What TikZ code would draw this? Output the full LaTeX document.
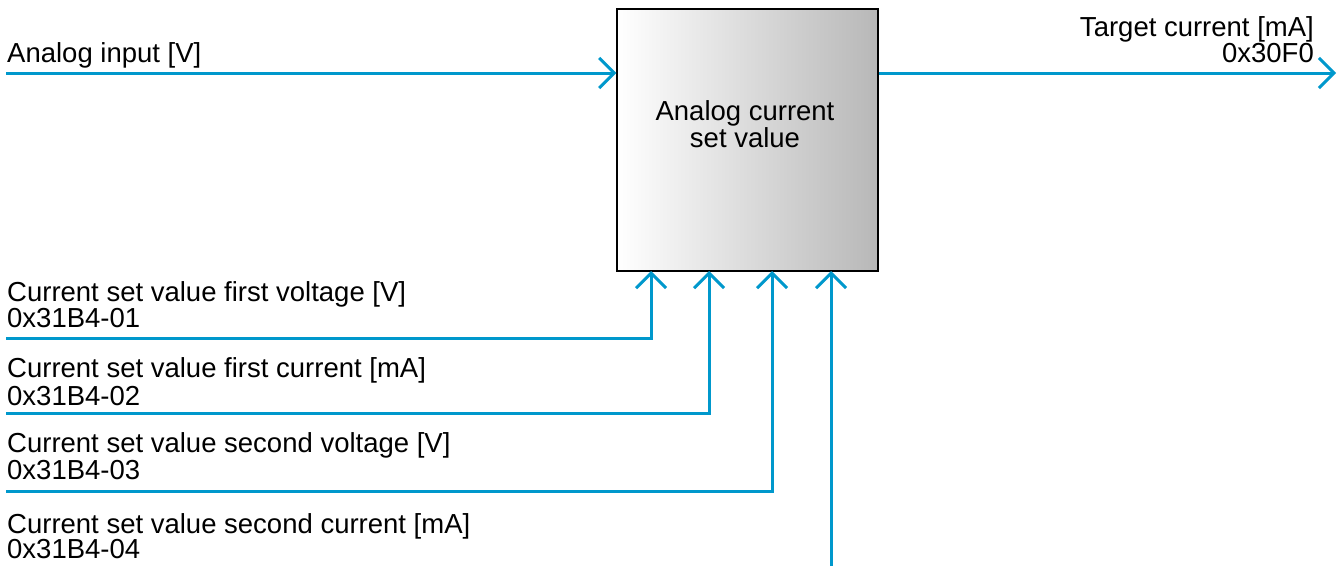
\documentclass[tikz,border=0pt]{standalone}
\usepackage{fontspec}
\setmainfont{Liberation Sans}
\usetikzlibrary{arrows.meta,calc}
\definecolor{wire}{RGB}{0,152,204}
\begin{document}
\begin{tikzpicture}[x=1pt,y=-1pt,
  wireline/.style={draw=wire,line width=3pt},
  inarrow/.style={wireline,-{Straight Barb[length=15pt,width=30pt,line width=3pt]}},
  lbl/.style={inner sep=0pt,font=\fontsize{27.5}{32}\selectfont,anchor=base west},
  rlbl/.style={inner sep=0pt,font=\fontsize{27.5}{32}\selectfont,anchor=base east},
  block/.style={draw=black,line width=1.5pt,left color=white,right color=black!28,minimum width=261pt,minimum height=262pt,inner sep=0pt}]
\useasboundingbox (0,0) rectangle (1343,566);
\node[block] (box) at (747.5,140) {};
\node[lbl,anchor=base] (t1) at (745,120) {Analog current};
\node[lbl,anchor=base] (t2) at (745,147) {set value};
% analog input
\coordinate (ain) at (6,73);
\draw[inarrow] (ain) -- (box.west |- ain);
\node[lbl] (lain) at (7,62) {Analog input [V]};
% output
\coordinate (aout) at (1336,73);
\draw[inarrow] (box.east |- aout) -- (aout);
\node[rlbl] (lout1) at (1314,36) {Target current [mA]};
\node[rlbl] (lout2) at (1314,62) {0x30F0};
% bottom inputs
\coordinate (b1) at (6,338);
\coordinate (b2) at (6,413);
\coordinate (b3) at (6,491);
\coordinate (b4) at (831,566);
\coordinate (p1) at (651,271);
\coordinate (p2) at (709,271);
\coordinate (p3) at (772,271);
\coordinate (p4) at (831,271);
\draw[inarrow] (b1) -| (p1);
\draw[inarrow] (b2) -| (p2);
\draw[inarrow] (b3) -| (p3);
\draw[inarrow] (b4) -- (p4);
\node[lbl] (l1a) at (7,301) {Current set value first voltage [V]};
\node[lbl] (l1b) at (7,327) {0x31B4-01};
\node[lbl] (l2a) at (7,377) {Current set value first current [mA]};
\node[lbl] (l2b) at (7,405) {0x31B4-02};
\node[lbl] (l3a) at (7,452) {Current set value second voltage [V]};
\node[lbl] (l3b) at (7,479) {0x31B4-03};
\node[lbl] (l4a) at (7,533) {Current set value second current [mA]};
\node[lbl] (l4b) at (7,558) {0x31B4-04};
\end{tikzpicture}
\end{document}
